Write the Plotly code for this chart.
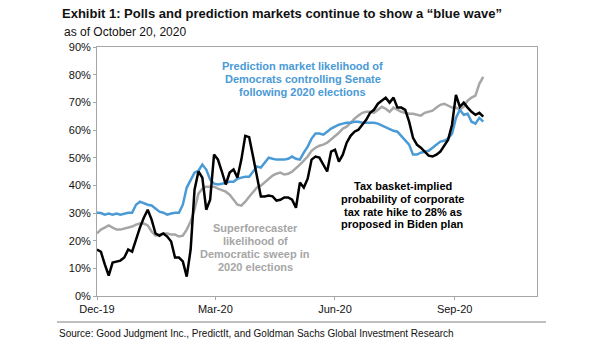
import pandas as pd
import plotly.graph_objects as go

# ---- data (percent), sampled every 3 days starting 2019-12-01 ----
dates = pd.date_range("2019-12-01", periods=100, freq="3D")

senate_market = [
    30.1, 30.0, 29.4, 29.8, 29.4, 29.8, 29.4, 29.8, 30.1, 30.1,
    33.0, 34.1, 33.4, 33.0, 32.7, 31.6, 30.5, 30.1, 29.4, 29.8,
    30.1, 30.1, 33.0, 39.2, 42.1, 44.6, 45.3, 47.5, 45.7, 42.1,
    40.6, 40.3, 40.6, 41.0, 41.3, 41.3, 42.4, 42.8, 43.1, 43.1,
    45.0, 46.8, 46.4, 48.2, 50.0, 49.6, 49.3, 49.3, 49.3, 49.6,
    50.4, 49.6, 49.3, 51.8, 54.0, 56.9, 58.7, 58.7, 58.3, 59.4,
    60.5, 61.2, 61.9, 62.3, 62.6, 62.6, 63.0, 63.0, 62.6, 62.6,
    62.6, 62.6, 62.3, 61.6, 60.8, 60.1, 59.7, 59.4, 57.9, 56.5,
    54.7, 51.1, 51.1, 51.8, 52.2, 52.5, 53.6, 54.7, 55.8, 56.1,
    56.9, 58.7, 64.4, 67.3, 65.5, 65.9, 63.0, 62.3, 64.4, 63.0,
]

tax_basket = [
    16.8, 16.0, 11.4, 7.4, 12.1, 12.5, 12.8, 13.9, 16.8, 16.0,
    20.4, 24.7, 28.3, 31.2, 27.6, 22.6, 21.8, 22.6, 21.5, 19.7,
    13.9, 13.9, 12.5, 7.0, 16.8, 38.4, 45.0, 42.8, 31.2, 34.8,
    51.1, 49.3, 45.0, 40.3, 44.6, 45.7, 42.8, 49.3, 57.9, 57.4,
    50.4, 43.1, 36.0, 36.0, 36.3, 36.0, 34.5, 34.8, 35.6, 35.6,
    34.8, 31.9, 41.0, 39.2, 42.4, 49.3, 50.4, 50.0, 47.5, 45.0,
    52.2, 52.9, 48.6, 51.1, 55.4, 57.9, 59.4, 60.1, 61.9, 63.7,
    66.2, 67.3, 69.5, 70.6, 71.7, 69.9, 71.7, 68.1, 68.1, 67.3,
    63.0, 57.2, 54.7, 53.6, 52.2, 50.7, 50.4, 51.1, 52.2, 54.3,
    56.5, 61.9, 72.7, 68.4, 69.9, 68.1, 66.6, 65.5, 66.2, 64.8,
]

superforecaster = [
    22.6, 24.0, 24.7, 25.5, 24.7, 24.0, 24.0, 24.4, 24.7, 25.1,
    25.8, 26.2, 26.2, 25.5, 23.3, 21.8, 22.2, 22.6, 22.6, 22.2,
    22.2, 21.5, 21.8, 24.0, 26.9, 31.2, 37.0, 38.8, 39.5, 39.5,
    39.5, 38.8, 38.1, 37.7, 36.6, 34.8, 33.0, 32.7, 34.1, 35.9,
    37.7, 39.2, 39.9, 41.0, 42.4, 43.5, 44.2, 44.6, 43.9, 44.2,
    44.9, 46.1, 47.5, 48.9, 50.4, 52.5, 53.6, 54.3, 54.7, 55.4,
    56.5, 57.6, 59.0, 60.5, 61.2, 62.6, 64.1, 65.2, 66.2, 66.6,
    66.6, 66.2, 67.3, 68.4, 67.7, 66.6, 68.1, 67.3, 66.6, 66.2,
    65.9, 65.9, 65.5, 65.2, 66.2, 66.6, 67.0, 68.1, 69.1, 69.5,
    68.8, 68.1, 68.1, 67.3, 68.4, 70.6, 71.7, 72.4, 76.7, 79.2,
]

tick_dates = ["2019-12-01", "2020-03-01", "2020-06-01", "2020-09-01"]
tick_labels = ["Dec-19", "Mar-20", "Jun-20", "Sep-20"]

BLUE = "#4a9ad6"
GRAY = "#a6a6a6"
BLACK = "#000000"
FONT = "Liberation Sans, Arial, sans-serif"

# plot-area pixel geometry (layout only)
PL, PR, PT, PB = 97, 537, 47, 296


def px(x):
    return (x - PL) / (PR - PL)


def py(y):
    return (PB - y) / (PB - PT)


fig = go.Figure()
fig.add_trace(go.Scatter(x=dates, y=superforecaster, mode="lines",
                         line=dict(color=GRAY, width=2.5), hoverinfo="skip"))
fig.add_trace(go.Scatter(x=dates, y=senate_market, mode="lines",
                         line=dict(color=BLUE, width=2.5), hoverinfo="skip"))
fig.add_trace(go.Scatter(x=dates, y=tax_basket, mode="lines",
                         line=dict(color=BLACK, width=2.5), hoverinfo="skip"))

annotations = []


def add_lines(lines, cx, ys, color, size=11, bold=True):
    for t, yy in zip(lines, ys):
        annotations.append(dict(
            text=f"<b>{t}</b>" if bold else t, xref="paper", yref="paper",
            x=px(cx), y=py(yy), xanchor="center", yanchor="middle",
            showarrow=False, font=dict(family=FONT, size=size, color=color)))


add_lines(["Prediction market likelihood of", "Democrats controlling Senate",
           "following 2020 elections"], 302.5, [66, 79, 92], BLUE)
add_lines(["Superforecaster", "likelihood of", "Democratic sweep in",
           "2020 elections"], 255, [228, 241, 254, 267], GRAY)
add_lines(["Tax basket-implied", "probability of corporate",
           "tax rate hike to 28% as", "proposed in Biden plan"], 402.5,
          [186, 198.5, 211.5, 224], BLACK)

annotations.append(dict(text="as of October 20, 2020", xref="paper", yref="paper",
                        x=px(62), y=py(32), xanchor="left", yanchor="middle",
                        showarrow=False, font=dict(family=FONT, size=12, color="#111")))
annotations.append(dict(
    text="Source: Good Judgment Inc., PredictIt, and Goldman Sachs Global Investment Research",
    xref="paper", yref="paper", x=px(57), y=py(333), xanchor="left", yanchor="middle",
    showarrow=False, font=dict(family=FONT, size=10, color="#111")))

fig.update_layout(
    width=605, height=341,
    margin=dict(l=PL, r=605 - PR, t=PT, b=341 - PB),
    paper_bgcolor="white", plot_bgcolor="white",
    showlegend=False,
    title=dict(text="<b>Exhibit 1: Polls and prediction markets continue to show a \u201cblue wave\u201d</b>",
               x=62 / 605, xanchor="left", y=1 - 13 / 341, yanchor="middle",
               font=dict(family=FONT, size=13, color="#111")),
    annotations=annotations,
    shapes=[dict(type="line", xref="paper", yref="paper", x0=px(57), x1=px(546),
                 y0=py(322), y1=py(322), line=dict(color="#808080", width=1))],
    xaxis=dict(range=["2019-12-01", "2020-11-03 08:00"], tickvals=tick_dates,
               ticktext=tick_labels, showgrid=False, zeroline=False,
               showline=True, linecolor="#a6a6a6", linewidth=1, mirror=True,
               ticks="outside", ticklen=3, tickcolor="#a6a6a6",
               tickfont=dict(family=FONT, size=11, color="#111")),
    yaxis=dict(range=[0, 90], dtick=10, ticksuffix="%", showgrid=False,
               zeroline=False, showline=True, linecolor="#a6a6a6", linewidth=1,
               mirror=True, ticks="outside", ticklen=3, tickcolor="#a6a6a6",
               tickfont=dict(family=FONT, size=11, color="#111")),
)

fig.write_html("out.html")
